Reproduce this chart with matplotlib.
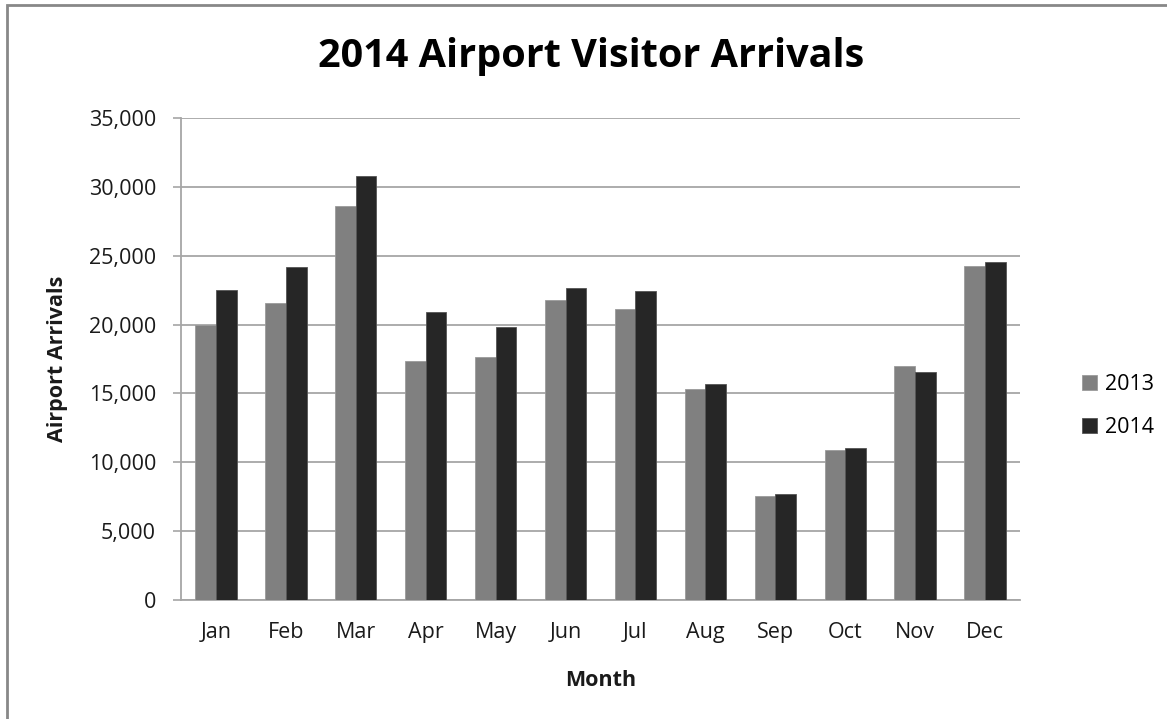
import matplotlib

matplotlib.use("Agg")
import matplotlib.pyplot as plt
import numpy as np
from matplotlib.patches import Rectangle
from matplotlib.ticker import FuncFormatter

months = ["Jan", "Feb", "Mar", "Apr", "May", "Jun",
          "Jul", "Aug", "Sep", "Oct", "Nov", "Dec"]
arrivals_2013 = [20000, 21600, 28620, 17360, 17650, 21770,
                 21140, 15310, 7580, 10870, 16980, 24280]
arrivals_2014 = [22530, 24200, 30800, 20940, 19850, 22680,
                 22420, 15700, 7700, 11060, 16520, 24560]
series_names = ["2013", "2014"]

C_2013 = "#808080"
C_2014 = "#262626"
C_GRID = "#a6a6a6"
C_TEXT = "#1a1a1a"
FONT = ["Open Sans", "DejaVu Sans"]
FS = 15.5

W, H = 1167, 719
fig = plt.figure(figsize=(W / 100, H / 100), dpi=100, facecolor="white")
plt.rcParams["font.family"] = FONT

# chart border (cropped at right and bottom)
fig.patches.append(Rectangle((7 / W, -0.1), 1.2, 1 - 5 / H + 0.1,
                             transform=fig.transFigure, fill=False,
                             edgecolor="#888888", lw=2.0))

ax = fig.add_axes([181 / W, 1 - 600 / H, (1020 - 181) / W, (600 - 118) / H])

x = np.arange(len(months))
bw = 0.295
ax.bar(x - bw / 2, arrivals_2013, width=bw, color=C_2013, edgecolor="#9a9a9a",
       linewidth=0.6, label=series_names[0], zorder=3)
ax.bar(x + bw / 2, arrivals_2014, width=bw, color=C_2014, edgecolor="#555555",
       linewidth=0.6, label=series_names[1], zorder=3)

ax.set_xlim(-0.5, len(months) - 0.5)
ax.set_ylim(0, 35000)
ax.set_yticks(np.arange(0, 35001, 5000))
ax.yaxis.set_major_formatter(FuncFormatter(lambda v, p: f"{int(v):,}"))
ax.set_xticks(x)
ax.set_xticklabels(months)

ax.grid(True, axis="y", color=C_GRID, lw=1.3, zorder=0)
ax.set_axisbelow(True)
for s in ["top", "right"]:
    ax.spines[s].set_visible(False)
ax.spines["left"].set_color(C_GRID)
ax.spines["left"].set_linewidth(1.3)
ax.spines["bottom"].set_color(C_GRID)
ax.spines["bottom"].set_linewidth(1.3)

ax.tick_params(axis="y", length=6, width=1.2, color=C_GRID, pad=12,
               labelsize=FS, labelcolor=C_TEXT)
ax.tick_params(axis="x", length=0, pad=16, labelsize=FS, labelcolor=C_TEXT)

ax.set_ylabel("Airport Arrivals", fontsize=FS, fontweight="bold", color=C_TEXT,
              labelpad=15)
ax.set_xlabel("Month", fontsize=FS, fontweight="bold", color=C_TEXT, labelpad=19)

fig.text(591 / W, 1 - 57 / H, "2014 Airport Visitor Arrivals", ha="center",
         va="center", fontsize=28.5, fontweight="bold", color="black")

ax.legend(loc="center left", bbox_to_anchor=(1073 / W, 1 - 406 / H),
          bbox_transform=fig.transFigure, frameon=False, fontsize=FS,
          handlelength=0.7, handleheight=0.7, handletextpad=0.4,
          labelspacing=1.0, borderaxespad=0)

fig.savefig("out.png", dpi=100, facecolor="white")
plt.close(fig)
